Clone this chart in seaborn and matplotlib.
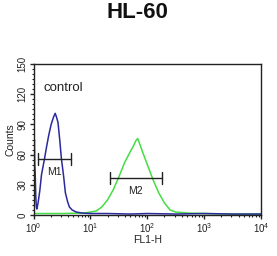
import numpy as np
import pandas as pd
import matplotlib
matplotlib.use("Agg")
import matplotlib.pyplot as plt
import seaborn as sns
from matplotlib.ticker import MultipleLocator, LogLocator, NullFormatter

sns.set_style("ticks")
plt.rcParams['font.family'] = ['Liberation Sans', 'DejaVu Sans']

# Control (blue) histogram: log10(FL1-H) positions and counts
ctrl_log = [0.00, 0.008, 0.015, 0.022, 0.03, 0.04, 0.05, 0.06, 0.08, 0.11, 0.14, 0.19, 0.23, 0.27, 0.31,
            0.35, 0.38, 0.40, 0.43, 0.46, 0.49, 0.53, 0.56, 0.60, 0.63, 0.68, 0.75,
            0.85, 1.0, 1.3, 1.7, 2.0, 2.5, 3.0, 3.5, 4.0]
ctrl_counts = [78, 60, 75, 50, 40, 18, 8, 6, 12, 24, 40, 55, 68, 80, 90,
               97, 101, 98, 92, 75, 56, 38, 22, 13, 8, 5, 3,
               2, 1.5, 1.5, 1, 1.5, 1, 1.5, 1, 1]

# Sample (green) histogram
samp_log = [0.0, 0.5, 0.9, 1.1, 1.2, 1.3, 1.4, 1.5, 1.6, 1.7, 1.75, 1.8, 1.83,
            1.87, 1.92, 2.0, 2.1, 2.2, 2.3, 2.4, 2.5, 2.7, 3.0, 3.5, 4.0]
samp_counts = [1.5, 1.5, 2, 4, 8, 15, 25, 38, 52, 63, 68, 74, 76,
               70, 62, 50, 35, 22, 12, 5, 3, 2, 1.5, 1, 1]

# Gate markers
gate_names = ["M1", "M2"]
gate_lo = [1.18, 22.0]
gate_hi = [4.5, 180.0]
gate_level = [56, 37]

title = "HL-60"
xlabel = "FL1-H"
ylabel = "Counts"
yticks = [0, 30, 60, 90, 120, 150]

ctrl = pd.DataFrame({"x": 10 ** np.array(ctrl_log), "y": ctrl_counts})
samp = pd.DataFrame({"x": 10 ** np.array(samp_log), "y": samp_counts})

fig = plt.figure(figsize=(2.77, 2.56), dpi=100)
ax = fig.add_axes([0.121, 0.160, 0.822, 0.590])

sns.lineplot(data=samp, x="x", y="y", color="#44dd44", lw=1.1, ax=ax)
sns.lineplot(data=ctrl, x="x", y="y", color="#2a2a9c", lw=1.1, ax=ax)

for name, lo, hi, lev in zip(gate_names, gate_lo, gate_hi, gate_level):
    ax.plot([lo, hi], [lev, lev], color="#222222", lw=1.0)
    ax.plot([lo, lo], [lev - 6, lev + 6], color="#222222", lw=1.0)
    ax.plot([hi, hi], [lev - 6, lev + 6], color="#222222", lw=1.0)
    gx = np.sqrt(lo * hi)
    ax.text(gx, lev - 8, name, ha="center", va="top", fontsize=7.5, color="#222222")

ax.text(1.5, 126, "control", fontsize=9.5, ha="left", va="center", color="#222222")

ax.set_xscale("log")
ax.set_xlim(1, 1e4)
ax.set_ylim(0, 150)
ax.set_yticks(yticks)
ax.yaxis.set_minor_locator(MultipleLocator(5))
ax.xaxis.set_major_locator(LogLocator(base=10, numticks=10))
ax.xaxis.set_minor_locator(LogLocator(base=10, subs=np.arange(2, 10), numticks=100))
ax.xaxis.set_minor_formatter(NullFormatter())
for lab in ax.get_yticklabels():
    lab.set_rotation(90)
    lab.set_va("center")
ax.tick_params(axis="both", which="major", labelsize=7, length=3, width=1, pad=1.5, colors="#222222")
ax.tick_params(axis="both", which="minor", length=1.5, width=0.8, colors="#222222")

for s in ax.spines.values():
    s.set_linewidth(1.0)
    s.set_color("#222222")

ax.set_xlabel(xlabel, fontsize=7.5, labelpad=0, color="#222222")
ax.set_ylabel(ylabel, fontsize=7.5, labelpad=1, color="#222222")
fig.text(0.495, 0.95, title, ha="center", va="center", fontsize=16, fontweight="bold", color="#111111")

fig.savefig("out.png", dpi=100)
